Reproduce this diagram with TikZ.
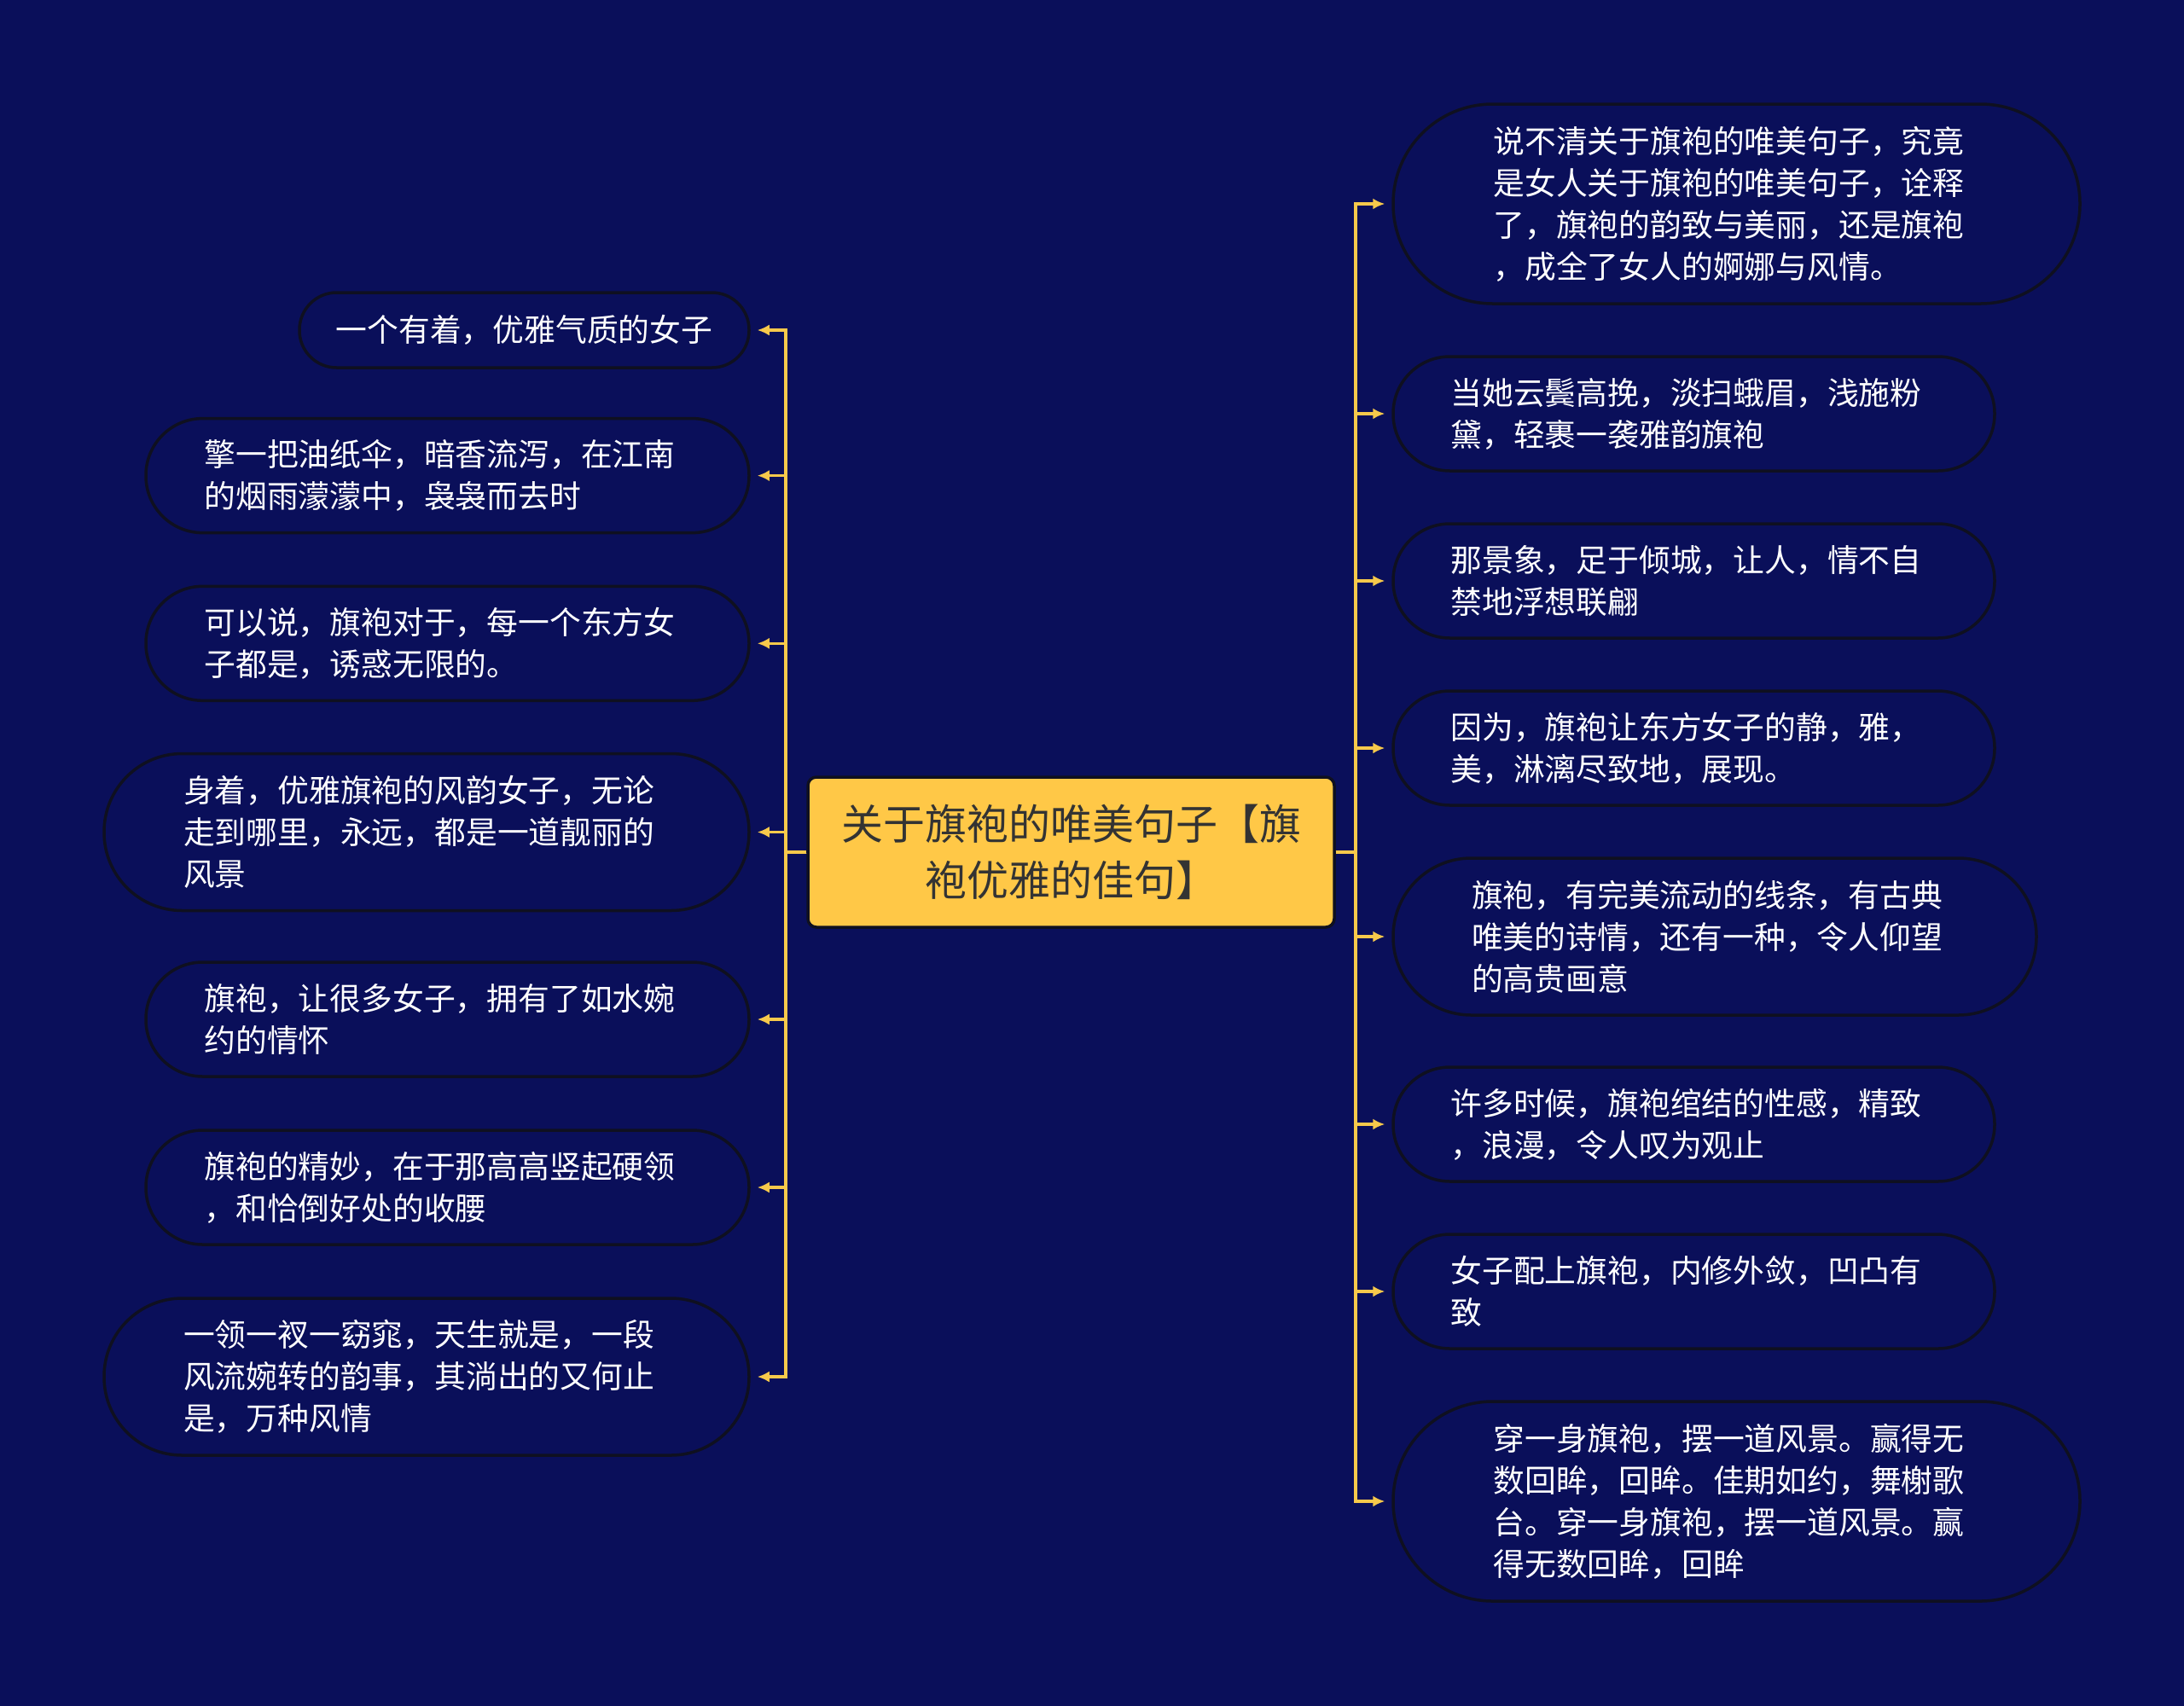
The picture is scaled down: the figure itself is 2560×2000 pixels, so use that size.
\documentclass[tikz,border=0pt]{standalone}
\usepackage{fontspec}
\newfontfamily\cjk{Noto Sans CJK SC}
\usetikzlibrary{arrows.meta}
\definecolor{bgcol}{HTML}{0A0F5A}
\definecolor{nodeborder}{HTML}{0F1020}
\definecolor{conncol}{HTML}{F7C94B}
\definecolor{centerfill}{HTML}{FFC847}
\definecolor{centertext}{HTML}{333333}
\tikzset{
  leaf/.style={draw=nodeborder, line width=3.5pt, fill=bgcol, text=white,
    font=\cjk\fontsize{36.8}{49}\selectfont, align=left, inner sep=0pt},
  wide/.style={text width=570pt},
  hone/.style={minimum height=88pt, rounded corners=43.5pt},
  htwo/.style={wide, minimum height=134pt, rounded corners=66.5pt},
  hthree/.style={wide, minimum height=184pt, rounded corners=91.5pt},
  hfour/.style={wide, minimum height=234pt, rounded corners=116.5pt},
  rootbox/.style={draw=nodeborder, line width=3.5pt, fill=centerfill, text=centertext,
    font=\cjk\fontsize{49}{66}\selectfont, align=center, inner sep=0pt,
    minimum width=617pt, minimum height=176pt, rounded corners=10pt},
  conn/.style={draw=conncol, line width=3.2pt, shorten >=8pt,
    -{Latex[length=14pt,width=13pt]}}
}
\begin{document}
\begin{tikzpicture}[x=1pt,y=-1pt]
\fill[bgcol] (0,0) rectangle (2560,2000);
\useasboundingbox (0,0) rectangle (2560,2000);

\node[rootbox] (C) at (1255.5,999) {关于旗袍的唯美句子【旗\\袍优雅的佳句】};

\coordinate (lt) at (921,999);
\coordinate (rt) at (1589,999);

% left nodes
\node[leaf,hone,minimum width=527pt] (L1) at (614.5,387) {一个有着，优雅气质的女子};
\node[leaf,htwo,minimum width=707pt] (L2) at (524.5,557.6) {擎一把油纸伞，暗香流泻，在江南\\的烟雨濛濛中，袅袅而去时};
\node[leaf,htwo,minimum width=707pt] (L3) at (524.5,754.3) {可以说，旗袍对于，每一个东方女\\子都是，诱惑无限的。};
\node[leaf,hthree,minimum width=756pt] (L4) at (500,975.5) {身着，优雅旗袍的风韵女子，无论\\走到哪里，永远，都是一道靓丽的\\风景};
\node[leaf,htwo,minimum width=707pt] (L5) at (524.5,1195) {旗袍，让很多女子，拥有了如水婉\\约的情怀};
\node[leaf,htwo,minimum width=707pt] (L6) at (524.5,1392) {旗袍的精妙，在于那高高竖起硬领\\，和恰倒好处的收腰};
\node[leaf,hthree,minimum width=756pt] (L7) at (500,1614) {一领一衩一窈窕，天生就是，一段\\风流婉转的韵事，其淌出的又何止\\是，万种风情};

% right nodes
\node[leaf,hfour,minimum width=805pt] (R1) at (2035.5,239) {说不清关于旗袍的唯美句子，究竟\\是女人关于旗袍的唯美句子，诠释\\了，旗袍的韵致与美丽，还是旗袍\\，成全了女人的婀娜与风情。};
\node[leaf,htwo,minimum width=705pt] (R2) at (1985.5,485) {当她云鬓高挽，淡扫蛾眉，浅施粉\\黛，轻裹一袭雅韵旗袍};
\node[leaf,htwo,minimum width=705pt] (R3) at (1985.5,681) {那景象，足于倾城，让人，情不自\\禁地浮想联翩};
\node[leaf,htwo,minimum width=705pt] (R4) at (1985.5,877) {因为，旗袍让东方女子的静，雅，\\美，淋漓尽致地，展现。};
\node[leaf,hthree,minimum width=754pt] (R5) at (2010,1098) {旗袍，有完美流动的线条，有古典\\唯美的诗情，还有一种，令人仰望\\的高贵画意};
\node[leaf,htwo,minimum width=705pt] (R6) at (1985.5,1318) {许多时候，旗袍绾结的性感，精致\\，浪漫，令人叹为观止};
\node[leaf,htwo,minimum width=705pt] (R7) at (1985.5,1514) {女子配上旗袍，内修外敛，凹凸有\\致};
\node[leaf,hfour,minimum width=805pt] (R8) at (2035.5,1760) {穿一身旗袍，摆一道风景。赢得无\\数回眸，回眸。佳期如约，舞榭歌\\台。穿一身旗袍，摆一道风景。赢\\得无数回眸，回眸};

% connectors
\foreach \n in {L1,L2,L3,L4,L5,L6,L7}
  \draw[conn] (C.west) -- (lt) |- (\n.east);
\foreach \n in {R1,R2,R3,R4,R5,R6,R7,R8}
  \draw[conn] (C.east) -- (rt) |- (\n.west);
\end{tikzpicture}
\end{document}
